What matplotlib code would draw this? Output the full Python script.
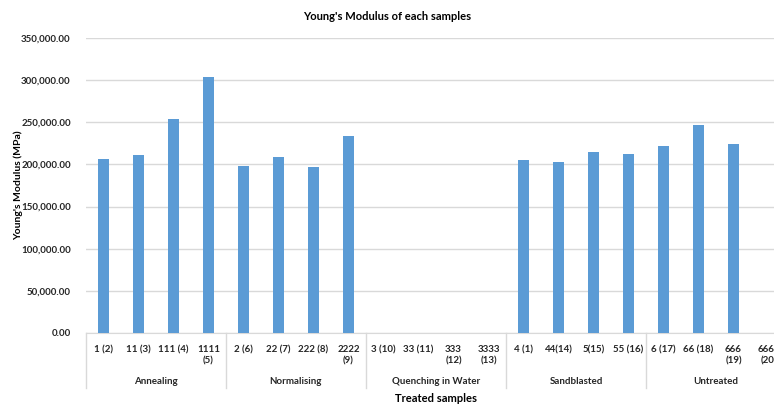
import matplotlib
matplotlib.use('Agg')
import matplotlib.pyplot as plt
import matplotlib.transforms as mtransforms
import matplotlib.ticker as ticker
from matplotlib import font_manager

# Chart data
sample_labels = ['1 (2)', '11 (3)', '111 (4)', '1111\n(5)',
                 '2 (6)', '22 (7)', '222 (8)', '2222\n(9)',
                 '3 (10)', '33 (11)', '333\n(12)', '3333\n(13)',
                 '4 (1)', '44(14)', '5(15)', '55 (16)',
                 '6 (17)', '66 (18)', '666\n(19)', '6666\n(20)']
youngs_modulus = [206000, 210700, 254300, 303200,
                  198000, 208600, 197200, 233500,
                  0, 0, 0, 0,
                  205600, 202400, 215200, 212300,
                  221900, 246400, 223900, 0]
groups = ['Annealing', 'Normalising', 'Quenching in Water', 'Sandblasted', 'Untreated']
group_size = 4

# pick a family that really has a bold face
bold_fams = {f.name for f in font_manager.fontManager.ttflist if f.weight in (700, 'bold')}
family = 'Lato' if 'Lato' in bold_fams else 'Open Sans'
plt.rcParams['font.family'] = [family, 'DejaVu Sans']
plt.rcParams['font.weight'] = 'bold'

BAR_COLOR = '#5B9BD5'
TEXT_COLOR = '#262626'
GRID_COLOR = '#D9D9D9'

fig = plt.figure(figsize=(7.74, 4.05), dpi=100)
# plot area runs past the right edge, like the cropped original
ax = fig.add_axes([86 / 774, 72 / 405, 700 / 774, 295 / 405])

x = list(range(len(sample_labels)))
ax.bar(x, youngs_modulus, width=0.31, color=BAR_COLOR, zorder=3)

ax.set_xlim(-0.5, len(sample_labels) - 0.5)
ax.set_ylim(0, 350000)
ax.yaxis.set_major_locator(ticker.MultipleLocator(50000))
ax.yaxis.set_major_formatter(ticker.FuncFormatter(lambda v, pos: f'{v:,.2f}'))
ax.grid(axis='y', color=GRID_COLOR, linewidth=1, zorder=0)
ax.tick_params(axis='y', length=0, pad=11, labelsize=7, labelcolor=TEXT_COLOR)
for lbl in ax.get_yticklabels():
    lbl.set_fontweight('bold')

ax.set_xticks(x)
ax.set_xticklabels(sample_labels, fontsize=7, color=TEXT_COLOR, linespacing=1.25,
                   fontweight='bold')
ax.tick_params(axis='x', length=0, pad=9)

for side in ['top', 'right', 'left']:
    ax.spines[side].set_visible(False)
ax.spines['bottom'].set_color(GRID_COLOR)

# group labels and separators below the axis
trans = mtransforms.blended_transform_factory(ax.transData, ax.transAxes)
for i, g in enumerate(groups):
    center = i * group_size + (group_size - 1) / 2
    ax.text(center, -0.166, g, transform=trans, ha='center', va='center',
            fontsize=7, color=TEXT_COLOR, fontweight='bold')
for i in range(len(groups) + 1):
    pos = i * group_size - 0.5
    ax.plot([pos, pos], [0, -0.186], transform=trans, color=GRID_COLOR,
            linewidth=1, clip_on=False)

ax.text(0.5, -0.222, 'Treated samples', transform=ax.transAxes, ha='center',
        va='center', fontsize=8, color='black', fontweight='bold')
fig.text(0.5, 1 - 17 / 405, "Young's Modulus of each samples", ha='center',
         va='center', fontsize=8, color='black', fontweight='bold')
fig.text(18 / 774, 1 - 185 / 405, "Young's Modulus (MPa)", rotation=90,
         ha='center', va='center', fontsize=7.5, color='black', fontweight='bold')

fig.savefig('out.png', dpi=100)
